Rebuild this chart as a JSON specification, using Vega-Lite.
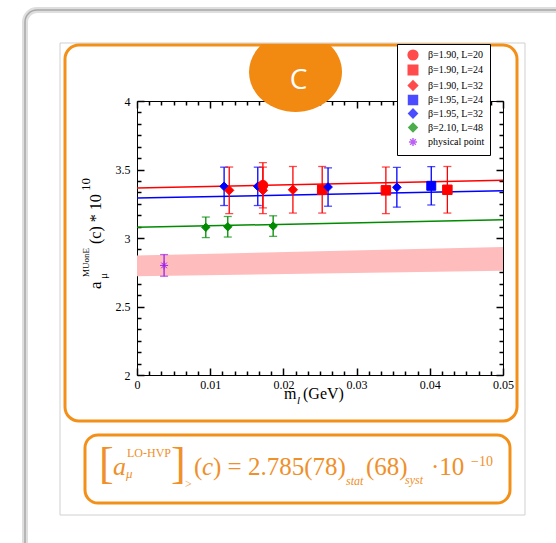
{
"$schema": "https://vega.github.io/schema/vega-lite/v6.json",
"width": 366, "height": 274,
"autosize": "none",
"padding": {"left": 137, "top": 101, "right": 53, "bottom": 168},
"background": "white",
"config": {
  "view": {"stroke": "black", "strokeWidth": 1},
  "axis": {"domain": false, "ticks": true, "tickColor": "#000000", "tickWidth": 1.5, "tickOpacity": 1, "labelFont": "Liberation Serif, Times New Roman, DejaVu Serif, serif", "labelFontSize": 12, "labelColor": "black", "grid": false, "labelOverlap": false, "labelFlush": false},
  "text": {"font": "Liberation Serif, Times New Roman, DejaVu Serif, serif"}
},
"datasets": {
  "points": [
    {"series": "β=1.95, L=32", "x": 0.0119, "y": 3.377, "err": 0.14},
    {"series": "β=1.90, L=32", "x": 0.0126, "y": 3.348, "err": 0.17},
    {"series": "β=1.95, L=32", "x": 0.0165, "y": 3.377, "err": 0.14},
    {"series": "β=1.90, L=20", "x": 0.0172, "y": 3.385, "err": 0.165},
    {"series": "β=1.90, L=32", "x": 0.0172, "y": 3.348, "err": 0.17},
    {"series": "β=1.90, L=32", "x": 0.0213, "y": 3.352, "err": 0.17},
    {"series": "β=1.90, L=24", "x": 0.0253, "y": 3.352, "err": 0.17},
    {"series": "β=1.95, L=32", "x": 0.0261, "y": 3.372, "err": 0.14},
    {"series": "β=1.90, L=24", "x": 0.034, "y": 3.348, "err": 0.17},
    {"series": "β=1.95, L=32", "x": 0.0355, "y": 3.37, "err": 0.145},
    {"series": "β=1.95, L=24", "x": 0.0402, "y": 3.381, "err": 0.14},
    {"series": "β=1.90, L=24", "x": 0.0424, "y": 3.352, "err": 0.17},
    {"series": "β=2.10, L=48", "x": 0.0094, "y": 3.078, "err": 0.075},
    {"series": "β=2.10, L=48", "x": 0.0124, "y": 3.082, "err": 0.075},
    {"series": "β=2.10, L=48", "x": 0.0186, "y": 3.087, "err": 0.075},
    {"series": "physical point", "x": 0.0037, "y": 2.8, "err": 0.079}
  ],
  "fits": [
    {"fit": "β=1.90", "x": 0, "y": 3.365}, {"fit": "β=1.90", "x": 0.05, "y": 3.421},
    {"fit": "β=1.95", "x": 0, "y": 3.292}, {"fit": "β=1.95", "x": 0.05, "y": 3.345},
    {"fit": "β=2.10", "x": 0, "y": 3.078}, {"fit": "β=2.10", "x": 0.05, "y": 3.133}
  ],
  "band": [
    {"x": 0, "lo": 2.72, "hi": 2.873},
    {"x": 0.05, "lo": 2.761, "hi": 2.934}
  ],
  "one": [{}]
},
"layer": [
  {"data": {"name": "one"}, "mark": {"type": "rect", "filled": false, "stroke": "#dedede", "strokeWidth": 6, "cornerRadius": 12, "clip": false},
   "encoding": {"x": {"datum": -0.0153, "type": "quantitative", "axis": null, "scale": {"domain": [0, 0.05], "nice": false, "zero": false}}, "x2": {"datum": 0.0605},
                "y": {"datum": 4.664, "type": "quantitative", "axis": null, "scale": {"domain": [2, 4], "nice": false, "zero": false}}, "y2": {"datum": 0.577}}},
  {"data": {"name": "one"}, "mark": {"type": "rect", "filled": false, "stroke": "#a8a8a8", "strokeWidth": 1.5, "cornerRadius": 12, "clip": false},
   "encoding": {"x": {"datum": -0.0153, "type": "quantitative", "axis": null}, "x2": {"datum": 0.0605},
                "y": {"datum": 4.664, "type": "quantitative", "axis": null}, "y2": {"datum": 0.577}}},
  {"data": {"name": "one"}, "mark": {"type": "rect", "filled": false, "stroke": "#d0d0d0", "strokeWidth": 1, "clip": false},
   "encoding": {"x": {"datum": -0.010519, "type": "quantitative", "axis": null}, "x2": {"datum": 0.053005},
                "y": {"datum": 4.42336, "type": "quantitative", "axis": null}, "y2": {"datum": 0.9781}}},
  {"data": {"name": "one"}, "mark": {"type": "rect", "filled": false, "stroke": "#f39019", "strokeWidth": 3, "cornerRadius": 14, "clip": false},
   "encoding": {"x": {"datum": -0.009836, "type": "quantitative", "axis": null}, "x2": {"datum": 0.051913},
                "y": {"datum": 4.408759, "type": "quantitative", "axis": null}, "y2": {"datum": 1.664234}}},
  {"data": {"name": "one"}, "mark": {"type": "rect", "filled": false, "stroke": "#f39019", "strokeWidth": 3, "cornerRadius": 13, "clip": false},
   "encoding": {"x": {"datum": -0.007104, "type": "quantitative", "axis": null}, "x2": {"datum": 0.050956},
                "y": {"datum": 1.562044, "type": "quantitative", "axis": null}, "y2": {"datum": 1.065693}}},
  {"data": {"name": "band"}, "mark": {"type": "area", "fill": "#ffbcbc", "opacity": 1},
   "encoding": {
     "x": {"field": "x", "type": "quantitative", "scale": {"domain": [0, 0.05], "nice": false, "zero": false},
           "axis": {"orient": "bottom", "title": null, "values": [0, 0.01, 0.02, 0.03, 0.04, 0.05], "format": ".2~f", "ticks": true, "tickSize": 7, "offset": -7, "labelPadding": 4}},
     "y": {"field": "lo", "type": "quantitative", "scale": {"domain": [2, 4], "nice": false, "zero": false},
           "axis": {"orient": "left", "title": null, "values": [2, 2.5, 3, 3.5, 4], "format": "~g", "ticks": true, "tickSize": 7, "offset": -7, "labelPadding": 7}},
     "y2": {"field": "hi"}
   }},
  {"data": {"name": "fits"}, "mark": {"type": "line", "strokeWidth": 1.5},
   "encoding": {
     "x": {"field": "x", "type": "quantitative",
           "axis": {"orient": "top", "title": null, "labels": false, "values": [0, 0.01, 0.02, 0.03, 0.04, 0.05], "ticks": true, "tickSize": 7, "offset": -7}},
     "y": {"field": "y", "type": "quantitative",
           "axis": {"orient": "right", "title": null, "labels": false, "values": [2, 2.5, 3, 3.5, 4], "ticks": true, "tickSize": 7, "offset": -7}},
     "detail": {"field": "fit", "type": "nominal"},
     "color": {"condition": [{"test": "datum.fit == 'β=1.90'", "value": "#ff0000"}, {"test": "datum.fit == 'β=1.95'", "value": "#0000ff"}], "value": "#008b00"}
   }},
  {"data": {"name": "points"}, "mark": {"type": "errorbar", "ticks": true, "size": 8, "thickness": 1.3},
   "encoding": {
     "x": {"field": "x", "type": "quantitative",
           "axis": {"orient": "bottom", "title": null, "labels": false, "ticks": true, "tickSize": 4, "offset": -4,
             "values": [0.0016667, 0.0033333, 0.005, 0.0066667, 0.0083333, 0.0116667, 0.0133333, 0.015, 0.0166667, 0.0183333, 0.0216667, 0.0233333, 0.025, 0.0266667, 0.0283333, 0.0316667, 0.0333333, 0.035, 0.0366667, 0.0383333, 0.0416667, 0.0433333, 0.045, 0.0466667, 0.0483333]}},
     "y": {"field": "y", "type": "quantitative",
           "axis": {"orient": "left", "title": null, "labels": false, "ticks": true, "tickSize": 4, "offset": -4,
             "values": [2.0833333, 2.1666667, 2.25, 2.3333333, 2.4166667, 2.5833333, 2.6666667, 2.75, 2.8333333, 2.9166667, 3.0833333, 3.1666667, 3.25, 3.3333333, 3.4166667, 3.5833333, 3.6666667, 3.75, 3.8333333, 3.9166667]}},
     "yError": {"field": "err"},
     "color": {"field": "series", "type": "nominal",
               "scale": {"domain": ["β=1.90, L=20", "β=1.90, L=24", "β=1.90, L=32", "β=1.95, L=24", "β=1.95, L=32", "β=2.10, L=48", "physical point"],
                         "range": ["#ff0000", "#ff0000", "#ff0000", "#0000ff", "#0000ff", "#008b00", "#a020f0"]}}
   }},
  {"data": {"name": "points"}, "mark": {"type": "point", "filled": true, "opacity": 1, "strokeWidth": 1},
   "encoding": {
     "x": {"field": "x", "type": "quantitative",
           "axis": {"orient": "top", "title": null, "labels": false, "ticks": true, "tickSize": 4, "offset": -4,
             "values": [0.0016667, 0.0033333, 0.005, 0.0066667, 0.0083333, 0.0116667, 0.0133333, 0.015, 0.0166667, 0.0183333, 0.0216667, 0.0233333, 0.025, 0.0266667, 0.0283333, 0.0316667, 0.0333333, 0.035, 0.0366667, 0.0383333, 0.0416667, 0.0433333, 0.045, 0.0466667, 0.0483333]}},
     "y": {"field": "y", "type": "quantitative",
           "axis": {"orient": "right", "title": null, "labels": false, "ticks": true, "tickSize": 4, "offset": -4,
             "values": [2.0833333, 2.1666667, 2.25, 2.3333333, 2.4166667, 2.5833333, 2.6666667, 2.75, 2.8333333, 2.9166667, 3.0833333, 3.1666667, 3.25, 3.3333333, 3.4166667, 3.5833333, 3.6666667, 3.75, 3.8333333, 3.9166667]}},
     "color": {"field": "series", "type": "nominal",
               "scale": {"domain": ["β=1.90, L=20", "β=1.90, L=24", "β=1.90, L=32", "β=1.95, L=24", "β=1.95, L=32", "β=2.10, L=48", "physical point"],
                         "range": ["#ff0000", "#ff0000", "#ff0000", "#0000ff", "#0000ff", "#008b00", "#a020f0"]},
               "legend": {"title": null, "orient": "none", "legendX": 260, "legendY": -57, "padding": 5, "strokeColor": "black", "fillColor": "white",
                          "labelFont": "Liberation Serif, Times New Roman, DejaVu Serif, serif", "labelFontSize": 10, "labelColor": "black", "rowPadding": -1.5, "symbolOffset": 5, "labelOffset": 9}},
     "shape": {"field": "series", "type": "nominal",
               "scale": {"domain": ["β=1.90, L=20", "β=1.90, L=24", "β=1.90, L=32", "β=1.95, L=24", "β=1.95, L=32", "β=2.10, L=48", "physical point"],
                         "range": ["circle", "square", "diamond", "square", "diamond", "diamond", "M0,-1L0,1M-1,0L1,0M-0.7,-0.7L0.7,0.7M-0.7,0.7L0.7,-0.7"]}},
     "size": {"field": "series", "type": "nominal",
               "scale": {"domain": ["β=1.90, L=20", "β=1.90, L=24", "β=1.90, L=32", "β=1.95, L=24", "β=1.95, L=32", "β=2.10, L=48", "physical point"],
                         "range": [95, 65, 115, 65, 115, 115, 85]}},
     "stroke": {"field": "series", "type": "nominal",
               "scale": {"domain": ["β=1.90, L=20", "β=1.90, L=24", "β=1.90, L=32", "β=1.95, L=24", "β=1.95, L=32", "β=2.10, L=48", "physical point"],
                         "range": ["#ff0000", "#ff0000", "#ff0000", "#0000ff", "#0000ff", "#008b00", "#a020f0"]}}
   }},
  {"data": {"name": "one"}, "mark": {"type": "point", "filled": true, "fill": "#f28a12", "opacity": 1, "strokeWidth": 0, "size": 8649, "clip": false,
     "shape": "M-0.714,-0.602L0.714,-0.602A1,0.86 0 1,1 -0.714,-0.602Z"},
   "encoding": {"x": {"datum": 0.021653, "type": "quantitative", "axis": null}, "y": {"datum": 4.2117, "type": "quantitative", "axis": null}}},
  {"data": {"name": "one"}, "mark": {"type": "text", "text": "C", "font": "Open Sans", "fontSize": 28, "fill": "white", "align": "center", "baseline": "middle"},
   "encoding": {"x": {"datum": 0.022063, "type": "quantitative", "axis": null}, "y": {"datum": 4.1496, "type": "quantitative", "axis": null}}},

  {"data": {"name": "one"}, "mark": {"type": "text", "text": "[", "fontSize": 44, "fill": "#f0902a", "align": "left", "baseline": "alphabetic"},
   "encoding": {"x": {"datum": -0.005191, "type": "quantitative", "axis": null}, "y": {"datum": 1.248175, "type": "quantitative", "axis": null}}},
  {"data": {"name": "one"}, "mark": {"type": "text", "text": "a", "fontStyle": "italic", "fontSize": 26, "fill": "#f0902a", "align": "left", "baseline": "alphabetic"},
   "encoding": {"x": {"datum": -0.003279, "type": "quantitative", "axis": null}, "y": {"datum": 1.270073, "type": "quantitative", "axis": null}}},
  {"data": {"name": "one"}, "mark": {"type": "text", "text": "LO-HVP", "fontSize": 12, "fill": "#f0902a", "align": "left", "baseline": "alphabetic"},
   "encoding": {"x": {"datum": -0.001366, "type": "quantitative", "axis": null}, "y": {"datum": 1.39854, "type": "quantitative", "axis": null}}},
  {"data": {"name": "one"}, "mark": {"type": "text", "text": "μ", "fontStyle": "italic", "fontSize": 13, "fill": "#f0902a", "align": "left", "baseline": "alphabetic"},
   "encoding": {"x": {"datum": -0.001503, "type": "quantitative", "axis": null}, "y": {"datum": 1.248175, "type": "quantitative", "axis": null}}},
  {"data": {"name": "one"}, "mark": {"type": "text", "text": "]", "fontSize": 44, "fill": "#f0902a", "align": "left", "baseline": "alphabetic"},
   "encoding": {"x": {"datum": 0.004645, "type": "quantitative", "axis": null}, "y": {"datum": 1.248175, "type": "quantitative", "axis": null}}},
  {"data": {"name": "one"}, "mark": {"type": "text", "text": ">", "fontSize": 12, "fill": "#f0902a", "align": "left", "baseline": "alphabetic"},
   "encoding": {"x": {"datum": 0.006557, "type": "quantitative", "axis": null}, "y": {"datum": 1.175182, "type": "quantitative", "axis": null}}},
  {"data": {"name": "one"}, "mark": {"type": "text", "text": "(", "fontSize": 25, "fill": "#f0902a", "align": "left", "baseline": "alphabetic"},
   "encoding": {"x": {"datum": 0.007787, "type": "quantitative", "axis": null}, "y": {"datum": 1.270073, "type": "quantitative", "axis": null}}},
  {"data": {"name": "one"}, "mark": {"type": "text", "text": "c", "fontStyle": "italic", "fontSize": 25, "fill": "#f0902a", "align": "left", "baseline": "alphabetic"},
   "encoding": {"x": {"datum": 0.008880, "type": "quantitative", "axis": null}, "y": {"datum": 1.270073, "type": "quantitative", "axis": null}}},
  {"data": {"name": "one"}, "mark": {"type": "text", "text": ") = 2.785(78)", "fontSize": 25, "fill": "#f0902a", "align": "left", "baseline": "alphabetic"},
   "encoding": {"x": {"datum": 0.010383, "type": "quantitative", "axis": null}, "y": {"datum": 1.270073, "type": "quantitative", "axis": null}}},
  {"data": {"name": "one"}, "mark": {"type": "text", "text": "stat", "fontStyle": "italic", "fontSize": 12, "fill": "#f0902a", "align": "left", "baseline": "alphabetic"},
   "encoding": {"x": {"datum": 0.028552, "type": "quantitative", "axis": null}, "y": {"datum": 1.19708, "type": "quantitative", "axis": null}}},
  {"data": {"name": "one"}, "mark": {"type": "text", "text": "(68)", "fontSize": 25, "fill": "#f0902a", "align": "left", "baseline": "alphabetic"},
   "encoding": {"x": {"datum": 0.031284, "type": "quantitative", "axis": null}, "y": {"datum": 1.270073, "type": "quantitative", "axis": null}}},
  {"data": {"name": "one"}, "mark": {"type": "text", "text": "syst", "fontStyle": "italic", "fontSize": 12, "fill": "#f0902a", "align": "left", "baseline": "alphabetic"},
   "encoding": {"x": {"datum": 0.036612, "type": "quantitative", "axis": null}, "y": {"datum": 1.20438, "type": "quantitative", "axis": null}}},
  {"data": {"name": "one"}, "mark": {"type": "text", "text": "·10", "fontSize": 25, "fill": "#f0902a", "align": "left", "baseline": "alphabetic"},
   "encoding": {"x": {"datum": 0.040164, "type": "quantitative", "axis": null}, "y": {"datum": 1.270073, "type": "quantitative", "axis": null}}},
  {"data": {"name": "one"}, "mark": {"type": "text", "text": "−10", "fontSize": 14, "fill": "#f0902a", "align": "left", "baseline": "alphabetic"},
   "encoding": {"x": {"datum": 0.045628, "type": "quantitative", "axis": null}, "y": {"datum": 1.335766, "type": "quantitative", "axis": null}}},

  {"data": {"name": "one"}, "mark": {"type": "text", "text": "m", "fontSize": 16, "fill": "black", "align": "left", "baseline": "alphabetic"},
   "encoding": {"x": {"datum": 0.020082, "type": "quantitative", "axis": null}, "y": {"datum": 1.824818, "type": "quantitative", "axis": null}}},
  {"data": {"name": "one"}, "mark": {"type": "text", "text": "l", "fontStyle": "italic", "fontSize": 11, "fill": "black", "align": "left", "baseline": "alphabetic"},
   "encoding": {"x": {"datum": 0.021858, "type": "quantitative", "axis": null}, "y": {"datum": 1.788321, "type": "quantitative", "axis": null}}},
  {"data": {"name": "one"}, "mark": {"type": "text", "text": "(GeV)", "fontSize": 16, "fill": "black", "align": "left", "baseline": "alphabetic"},
   "encoding": {"x": {"datum": 0.022678, "type": "quantitative", "axis": null}, "y": {"datum": 1.824818, "type": "quantitative", "axis": null}}},

  {"data": {"name": "one"}, "mark": {"type": "text", "text": "a", "angle": 270, "fontSize": 17, "fill": "black", "align": "left", "baseline": "alphabetic"},
   "encoding": {"x": {"datum": -0.004918, "type": "quantitative", "axis": null}, "y": {"datum": 2.627737, "type": "quantitative", "axis": null}}},
  {"data": {"name": "one"}, "mark": {"type": "text", "text": "μ", "angle": 270, "fontSize": 11, "fill": "black", "align": "left", "baseline": "alphabetic"},
   "encoding": {"x": {"datum": -0.004098, "type": "quantitative", "axis": null}, "y": {"datum": 2.70073, "type": "quantitative", "axis": null}}},
  {"data": {"name": "one"}, "mark": {"type": "text", "text": "MUonE", "angle": 270, "fontSize": 9, "fill": "black", "align": "left", "baseline": "alphabetic"},
   "encoding": {"x": {"datum": -0.006557, "type": "quantitative", "axis": null}, "y": {"datum": 2.715328, "type": "quantitative", "axis": null}}},
  {"data": {"name": "one"}, "mark": {"type": "text", "text": "(c) * 10", "angle": 270, "fontSize": 16, "fill": "black", "align": "left", "baseline": "alphabetic"},
   "encoding": {"x": {"datum": -0.004918, "type": "quantitative", "axis": null}, "y": {"datum": 2.956204, "type": "quantitative", "axis": null}}},
  {"data": {"name": "one"}, "mark": {"type": "text", "text": "10", "angle": 270, "fontSize": 13, "fill": "black", "align": "left", "baseline": "alphabetic"},
   "encoding": {"x": {"datum": -0.006421, "type": "quantitative", "axis": null}, "y": {"datum": 3.343066, "type": "quantitative", "axis": null}}}
],
"resolve": {"axis": {"x": "independent", "y": "independent"}}
}
